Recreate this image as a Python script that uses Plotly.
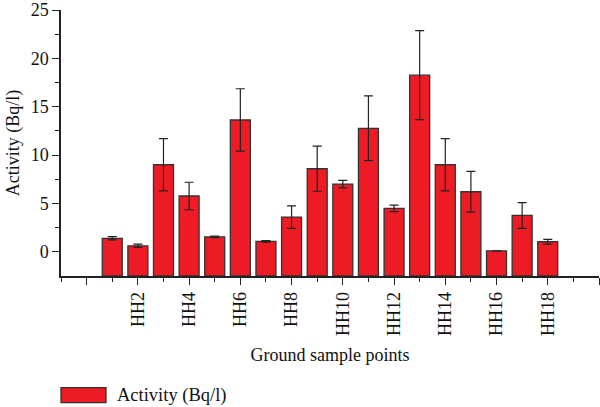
import plotly.graph_objects as go

categories = ["HH1", "HH2", "HH3", "HH4", "HH5", "HH6", "HH7", "HH8", "HH9",
              "HH10", "HH11", "HH12", "HH13", "HH14", "HH15", "HH16", "HH17", "HH18"]
activity = [1.4, 0.62, 9.0, 5.77, 1.55, 13.63, 1.07, 3.59, 8.59,
            7.0, 12.77, 4.49, 18.26, 9.0, 6.21, 0.1, 3.76, 1.04]
errors = [0.17, 0.17, 2.7, 1.42, 0.08, 3.23, 0.08, 1.17, 2.33,
          0.38, 3.35, 0.33, 4.6, 2.7, 2.1, 0.0, 1.33, 0.24]
y_ticks = [0, 5, 10, 15, 20, 25]
y_min, y_max = -2.5, 25
x_min, x_max = -1, 20

positions = list(range(1, len(categories) + 1))
font = "Liberation Serif"

fig = go.Figure()
fig.add_trace(go.Bar(
    x=positions,
    y=[v - y_min for v in activity],
    base=y_min,
    width=0.78,
    marker=dict(color="#ED1C24", line=dict(color="#333333", width=1.3)),
    name="Activity (Bq/l)",
    showlegend=False,
))
fig.add_trace(go.Scatter(
    x=positions,
    y=activity,
    mode="markers",
    marker=dict(size=0.1, color="rgba(0,0,0,0)"),
    error_y=dict(type="data", array=errors, visible=True,
                 color="#222222", thickness=1.2, width=4.5),
    showlegend=False,
    hoverinfo="skip",
))

even_ticks = list(range(0, x_max + 1, 2))
tick_text = [categories[v - 1] if 1 <= v <= len(categories) else "" for v in even_ticks]
odd_ticks = list(range(x_min, x_max, 2))

fig.update_xaxes(
    range=[x_min, x_max],
    tickmode="array", tickvals=even_ticks, ticktext=tick_text,
    tickangle=-90,
    ticks="outside", ticklen=7, tickwidth=1.3, tickcolor="#222",
    showline=True, linecolor="#222", linewidth=1.5,
    showgrid=False, zeroline=False,
    minor=dict(tickmode="array", tickvals=odd_ticks, ticks="outside",
               ticklen=4, tickwidth=1.3, tickcolor="#222", showgrid=False),
    tickfont=dict(family=font, size=18, color="#111"),
    title=dict(text="Ground sample points", font=dict(family=font, size=18, color="#111"),
               standoff=13),
)
fig.update_yaxes(
    range=[y_min, y_max],
    tickmode="array", tickvals=y_ticks,
    ticks="outside", ticklen=7, tickwidth=1.3, tickcolor="#222",
    showline=True, linecolor="#222", linewidth=1.5,
    showgrid=False, zeroline=False,
    minor=dict(tickmode="array", tickvals=[2.5, 7.5, 12.5, 17.5, 22.5], ticks="outside",
               ticklen=4, tickwidth=1.3, tickcolor="#222", showgrid=False),
    tickfont=dict(family=font, size=18, color="#111"),
    title=dict(text="Activity (Bq/l)", font=dict(family=font, size=18, color="#111"),
               standoff=6),
)

# legend key
fig.add_shape(type="rect", xref="paper", yref="paper",
              x0=0, x1=45 / 538, y0=-0.42, y1=-0.42 - 15 / 266,
              fillcolor="#ED1C24", line=dict(color="#333333", width=1.3))
fig.add_annotation(text="Activity (Bq/l)", xref="paper", yref="paper",
                   x=54 / 538, y=-0.42 - 7.5 / 266, xanchor="left", yanchor="middle",
                   showarrow=False, font=dict(family=font, size=18.5, color="#111"))

fig.update_layout(
    width=600, height=407,
    margin=dict(l=61, r=1, t=10, b=131),
    plot_bgcolor="white", paper_bgcolor="white",
    bargap=0.2,
)

fig.write_html("out.html")
